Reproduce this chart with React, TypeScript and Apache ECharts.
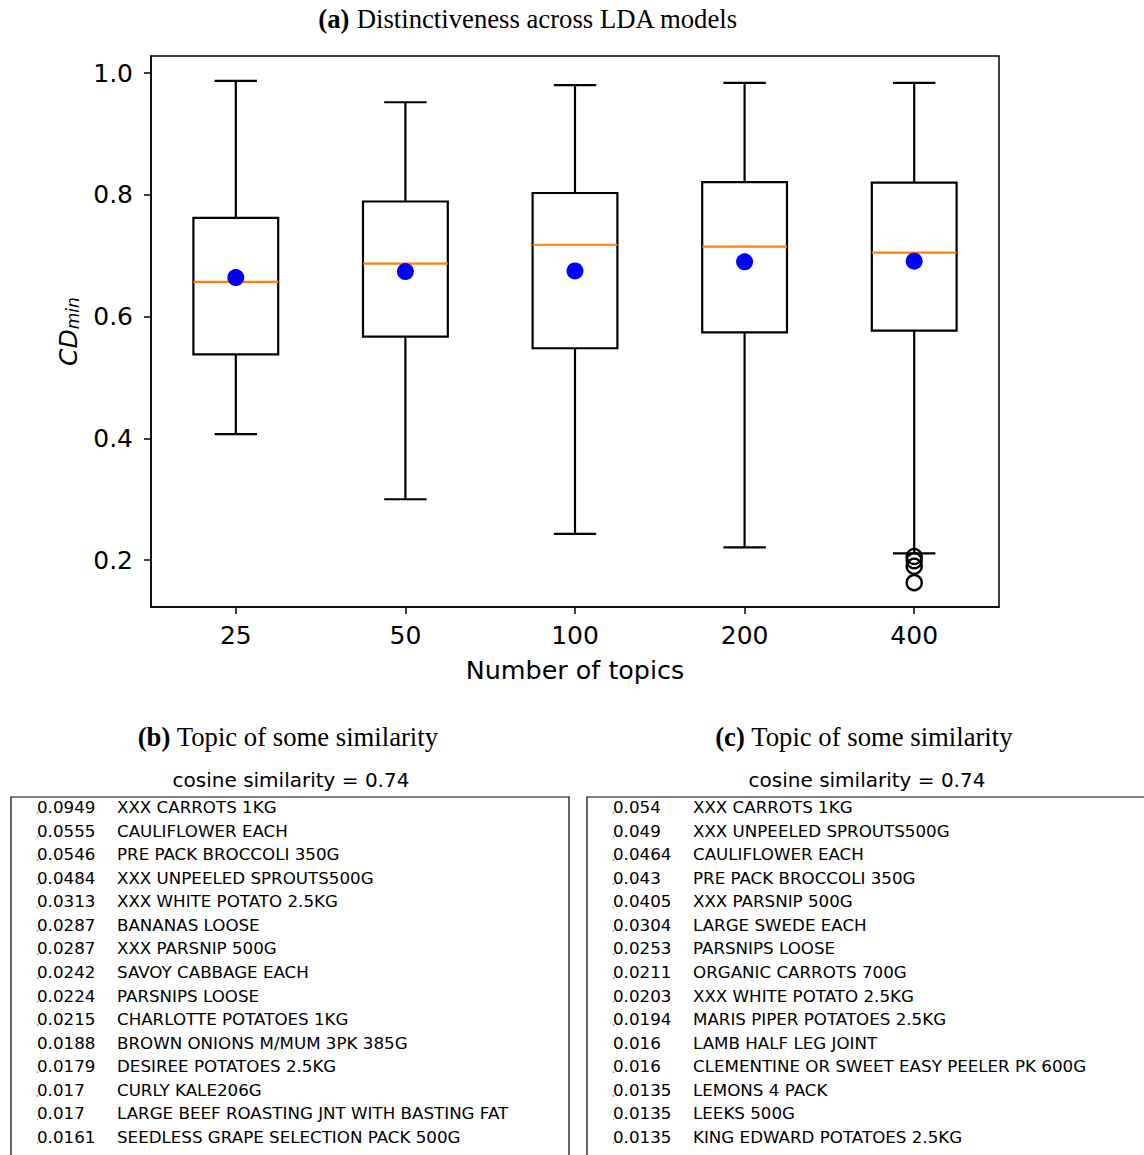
import React, { useEffect, useRef } from "react";
import * as echarts from "echarts";

// Box statistics of CD_min per LDA model size
const topicCounts = ["25", "50", "100", "200", "400"];
const whiskerLow = [0.407, 0.3, 0.243, 0.221, 0.211];
const quartile1 = [0.538, 0.567, 0.548, 0.574, 0.577];
const medians = [0.657, 0.687, 0.718, 0.715, 0.705];
const quartile3 = [0.762, 0.789, 0.803, 0.821, 0.82];
const whiskerHigh = [0.987, 0.952, 0.98, 0.984, 0.984];
const means = [0.664, 0.674, 0.675, 0.69, 0.691];
const outliers400 = [0.206, 0.199, 0.19, 0.163];
const yTicks = [0.2, 0.4, 0.6, 0.8, 1.0];

// Topic word lists
const similarityB = 0.74;
const weightsB = ["0.0949", "0.0555", "0.0546", "0.0484", "0.0313", "0.0287", "0.0287", "0.0242", "0.0224", "0.0215", "0.0188", "0.0179", "0.017", "0.017", "0.0161"];
const itemsB = [
  "XXX CARROTS 1KG",
  "CAULIFLOWER EACH",
  "PRE PACK BROCCOLI 350G",
  "XXX UNPEELED SPROUTS500G",
  "XXX WHITE POTATO 2.5KG",
  "BANANAS LOOSE",
  "XXX PARSNIP 500G",
  "SAVOY CABBAGE EACH",
  "PARSNIPS LOOSE",
  "CHARLOTTE POTATOES 1KG",
  "BROWN ONIONS M/MUM 3PK 385G",
  "DESIREE POTATOES 2.5KG",
  "CURLY KALE206G",
  "LARGE BEEF ROASTING JNT WITH BASTING FAT",
  "SEEDLESS GRAPE SELECTION PACK 500G",
];
const similarityC = 0.74;
const weightsC = ["0.054", "0.049", "0.0464", "0.043", "0.0405", "0.0304", "0.0253", "0.0211", "0.0203", "0.0194", "0.016", "0.016", "0.0135", "0.0135", "0.0135"];
const itemsC = [
  "XXX CARROTS 1KG",
  "XXX UNPEELED SPROUTS500G",
  "CAULIFLOWER EACH",
  "PRE PACK BROCCOLI 350G",
  "XXX PARSNIP 500G",
  "LARGE SWEDE EACH",
  "PARSNIPS LOOSE",
  "ORGANIC CARROTS 700G",
  "XXX WHITE POTATO 2.5KG",
  "MARIS PIPER POTATOES 2.5KG",
  "LAMB HALF LEG JOINT",
  "CLEMENTINE OR SWEET EASY PEELER PK 600G",
  "LEMONS 4 PACK",
  "LEEKS 500G",
  "KING EDWARD POTATOES 2.5KG",
];

const SANS = "DejaVu Sans";
const SERIF = "Liberation Serif";
const TITLE_SIZE = 26.7;
const TABLE_SIZE = 16.7;
const AXIS_SIZE = 25;

function topicTable(
  left: number,
  boxWidth: number,
  centerX: number,
  label: string,
  similarity: number,
  weights: string[],
  items: string[]
): any[] {
  const els: any[] = [];
  els.push({
    type: "text",
    x: centerX,
    y: 737,
    style: {
      text: `{b|(${label})} Topic of some similarity`,
      font: `${TITLE_SIZE}px '${SERIF}'`,
      fill: "#000",
      align: "center",
      verticalAlign: "middle",
      rich: { b: { fontWeight: "bold", fontSize: TITLE_SIZE, fontFamily: SERIF } },
    },
  });
  els.push({
    type: "text",
    x: centerX + 3,
    y: 780,
    style: {
      text: `cosine similarity = ${similarity.toFixed(2)}`,
      font: `20px '${SANS}'`,
      fill: "#000",
      align: "center",
      verticalAlign: "middle",
    },
  });
  els.push({
    type: "rect",
    shape: { x: left, y: 797, width: boxWidth, height: 420 },
    style: { fill: "none", stroke: "#000", lineWidth: 1.2 },
  });
  const rowStep = 23.57;
  weights.forEach((w, i) => {
    const y = 807 + i * rowStep;
    els.push({
      type: "circle",
      shape: { cx: left + 26.5, cy: y + 6, r: 1 },
      style: { fill: "#8fb6dc" },
    });
    els.push({
      type: "text",
      x: left + 26,
      y,
      style: { text: w, font: `${TABLE_SIZE}px '${SANS}'`, fill: "#000", align: "left", verticalAlign: "middle" },
    });
    els.push({
      type: "text",
      x: left + 106,
      y,
      style: { text: items[i], font: `${TABLE_SIZE}px '${SANS}'`, fill: "#000", align: "left", verticalAlign: "middle" },
    });
  });
  return els;
}

export default function App() {
  const ref = useRef<HTMLDivElement>(null);

  useEffect(() => {
    if (!ref.current) return;
    const chart = echarts.init(ref.current, undefined, { renderer: "svg" });

    const boxData = topicCounts.map((_, i) => [
      i,
      whiskerLow[i],
      quartile1[i],
      medians[i],
      quartile3[i],
      whiskerHigh[i],
    ]);

    const option: any = {
      animation: false,
      backgroundColor: "#fff",
      grid: {
        left: 151,
        right: 145,
        top: 56,
        bottom: 548,
        show: true,
        borderColor: "#000",
        borderWidth: 1.5,
        backgroundColor: "transparent",
      },
      xAxis: {
        type: "category",
        data: topicCounts,
        name: "Number of topics",
        nameLocation: "middle",
        nameGap: 50,
        nameTextStyle: { fontFamily: SANS, fontSize: 25.4, color: "#000" },
        axisLine: { lineStyle: { color: "#000", width: 1.5 } },
        axisTick: { show: true, alignWithLabel: true, length: 7, lineStyle: { color: "#000", width: 1.5 } },
        axisLabel: { fontFamily: SANS, fontSize: AXIS_SIZE, color: "#000", margin: 16 },
        splitLine: { show: false },
      },
      yAxis: {
        type: "value",
        min: 0.123,
        max: 1.028,
        name: "{i|CD}{s|min}",
        nameLocation: "middle",
        nameRotate: 90,
        nameGap: 70,
        nameTextStyle: {
          color: "#000",
          rich: {
            i: { fontFamily: SANS, fontStyle: "italic", fontSize: AXIS_SIZE, color: "#000" },
            s: { fontFamily: SANS, fontStyle: "italic", fontSize: 17, color: "#000", verticalAlign: "bottom", padding: [9, 0, 0, 0] },
          },
        },
        axisLine: { show: true, lineStyle: { color: "#000", width: 1.5 } },
        axisTick: { show: true, length: 7, customValues: yTicks, lineStyle: { color: "#000", width: 1.5 } },
        axisLabel: {
          fontFamily: SANS,
          fontSize: AXIS_SIZE,
          color: "#000",
          margin: 18,
          customValues: yTicks,
          formatter: (v: number) => v.toFixed(1),
        },
        splitLine: { show: false },
      },
      series: [
        {
          type: "custom",
          data: boxData,
          encode: { x: 0, y: [1, 2, 3, 4, 5] },
          z: 2,
          renderItem: (_params: any, api: any) => {
            const idx = api.value(0);
            const lo = api.coord([idx, api.value(1)]);
            const q1 = api.coord([idx, api.value(2)]);
            const med = api.coord([idx, api.value(3)]);
            const q3 = api.coord([idx, api.value(4)]);
            const hi = api.coord([idx, api.value(5)]);
            const band = api.size([1, 0])[0];
            const half = band * 0.25;
            const cap = band * 0.125;
            const x = lo[0];
            const black = { stroke: "#000", lineWidth: 2.2, fill: "none" };
            return {
              type: "group",
              children: [
                { type: "line", shape: { x1: x, y1: hi[1], x2: x, y2: q3[1] }, style: black },
                { type: "line", shape: { x1: x, y1: q1[1], x2: x, y2: lo[1] }, style: black },
                { type: "line", shape: { x1: x - cap, y1: hi[1], x2: x + cap, y2: hi[1] }, style: black },
                { type: "line", shape: { x1: x - cap, y1: lo[1], x2: x + cap, y2: lo[1] }, style: black },
                {
                  type: "rect",
                  shape: { x: x - half, y: q3[1], width: half * 2, height: q1[1] - q3[1] },
                  style: black,
                },
                {
                  type: "line",
                  shape: { x1: x - half, y1: med[1], x2: x + half, y2: med[1] },
                  style: { stroke: "#ff7f0e", lineWidth: 2.2 },
                },
              ],
            };
          },
        },
        {
          type: "scatter",
          data: outliers400.map((v) => [4, v]),
          symbol: "circle",
          symbolSize: 15,
          z: 3,
          itemStyle: { color: "rgba(0,0,0,0)", borderColor: "#000", borderWidth: 2.4, opacity: 1 },
        },
        {
          type: "scatter",
          data: means.map((v, i) => [i, v]),
          symbol: "circle",
          symbolSize: 17,
          z: 4,
          itemStyle: { color: "#0000ff", opacity: 1 },
        },
      ],
      graphic: [
        {
          type: "text",
          x: 528,
          y: 19,
          style: {
            text: "{b|(a)} Distinctiveness across LDA models",
            font: `${TITLE_SIZE}px '${SERIF}'`,
            fill: "#000",
            align: "center",
            verticalAlign: "middle",
            rich: { b: { fontWeight: "bold", fontSize: TITLE_SIZE, fontFamily: SERIF } },
          },
        },
        ...topicTable(11, 558, 288, "b", similarityB, weightsB, itemsB),
        ...topicTable(587, 600, 864, "c", similarityC, weightsC, itemsC),
      ],
    };

    chart.setOption(option);
    return () => chart.dispose();
  }, []);

  return (
    <div
      ref={ref}
      style={{ position: "absolute", left: 0, top: 0, width: 1144, height: 1155, background: "#fff" }}
    />
  );
}
